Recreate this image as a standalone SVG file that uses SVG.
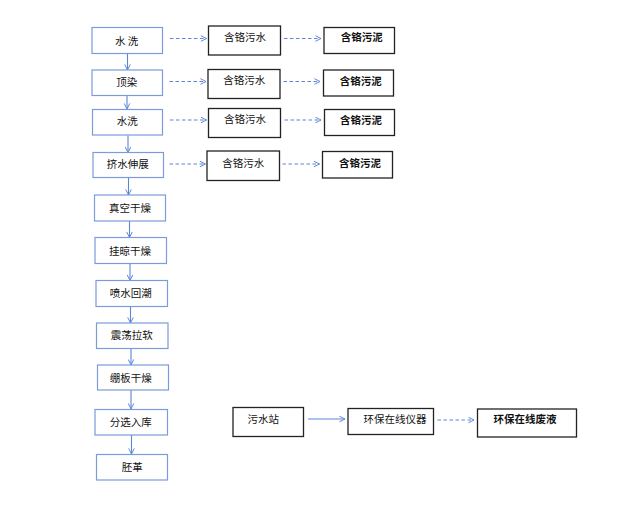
<svg xmlns="http://www.w3.org/2000/svg" width="618" height="529" viewBox="0 0 618 529">
<defs>
<style>
.bx{fill:#fff;stroke:#7B9BDB;stroke-width:1.2}
.kx{fill:#fff;stroke:#222;stroke-width:1.3}
text{font-family:"Noto Sans CJK SC","Liberation Sans",sans-serif;font-size:10.5px;fill:#111;text-anchor:middle}
.b{font-weight:bold}
.ar{stroke:#5B85D8;stroke-width:1.1;fill:none}
.da{stroke:#5B85D8;stroke-width:1.1;fill:none;stroke-dasharray:3.5 2.5}
</style>
<marker id="ah" viewBox="0 0 10 10" refX="9" refY="5" markerWidth="7" markerHeight="7" markerUnits="userSpaceOnUse" orient="auto">
<path d="M1,1 L9,5 L1,9" fill="none" stroke="#5B85D8" stroke-width="1.4"/>
</marker>
</defs>
<rect width="618" height="529" fill="#fff"/>
<g id="connectors">
<line class="ar" x1="127.5" y1="53.5" x2="127.5" y2="70" marker-end="url(#ah)"/>
<line class="ar" x1="127" y1="95.5" x2="127" y2="109" marker-end="url(#ah)"/>
<line class="ar" x1="128" y1="135.5" x2="128" y2="152.5" marker-end="url(#ah)"/>
<line class="ar" x1="128.5" y1="177.5" x2="128.5" y2="195" marker-end="url(#ah)"/>
<line class="ar" x1="129.5" y1="221" x2="129.5" y2="237.5" marker-end="url(#ah)"/>
<line class="ar" x1="130" y1="263.5" x2="130" y2="280.5" marker-end="url(#ah)"/>
<line class="ar" x1="130.5" y1="306.5" x2="130.5" y2="323" marker-end="url(#ah)"/>
<line class="ar" x1="131" y1="348.5" x2="131" y2="365" marker-end="url(#ah)"/>
<line class="ar" x1="131" y1="390" x2="131" y2="409" marker-end="url(#ah)"/>
<line class="ar" x1="131.5" y1="435" x2="131.5" y2="454" marker-end="url(#ah)"/>
<line class="da" x1="170" y1="38.5" x2="206.5" y2="38.5" marker-end="url(#ah)"/>
<line class="da" x1="284" y1="38.5" x2="321" y2="38.5" marker-end="url(#ah)"/>
<line class="da" x1="169.5" y1="81.5" x2="206" y2="81.5" marker-end="url(#ah)"/>
<line class="da" x1="283.5" y1="81.5" x2="320" y2="81.5" marker-end="url(#ah)"/>
<line class="da" x1="170" y1="120" x2="206.5" y2="120" marker-end="url(#ah)"/>
<line class="da" x1="284.5" y1="120" x2="321" y2="120" marker-end="url(#ah)"/>
<line class="da" x1="169.5" y1="164" x2="205.5" y2="164" marker-end="url(#ah)"/>
<line class="da" x1="282.5" y1="164" x2="319.5" y2="164" marker-end="url(#ah)"/>
<line class="ar" x1="308" y1="419" x2="345" y2="419" marker-end="url(#ah)"/>
<line class="da" x1="437.5" y1="420" x2="474" y2="420" marker-end="url(#ah)"/>
</g>
<g id="n1"><rect class="bx" x="92" y="27.5" width="70.5" height="26"/><text x="126.7" y="44.7">水 洗</text></g>
<g id="n2"><rect class="bx" x="92" y="70" width="70.5" height="25.5"/><text x="126.7" y="85.7">顶染</text></g>
<g id="n3"><rect class="bx" x="92.5" y="109.5" width="70" height="25.5"/><text x="127.3" y="124.7">水洗</text></g>
<g id="n4"><rect class="bx" x="93" y="152.5" width="70.5" height="25"/><text x="127.7" y="168">挤水伸展</text></g>
<g id="n5"><rect class="bx" x="94.5" y="195" width="71" height="26"/><text x="130" y="212.3">真空干燥</text></g>
<g id="n6"><rect class="bx" x="95" y="237.5" width="71.5" height="26"/><text x="130" y="255">挂晾干燥</text></g>
<g id="n7"><rect class="bx" x="96" y="280.5" width="71.5" height="26"/><text x="130.7" y="297.3">喷水回潮</text></g>
<g id="n8"><rect class="bx" x="96.5" y="323" width="71.5" height="25.5"/><text x="131.7" y="339">震荡拉软</text></g>
<g id="n9"><rect class="bx" x="97.5" y="365" width="71" height="25"/><text x="130.7" y="381.7">绷板干燥</text></g>
<g id="n10"><rect class="bx" x="95" y="409.5" width="72.5" height="25.5"/><text x="130.7" y="426.3">分选入库</text></g>
<g id="n11"><rect class="bx" x="96.5" y="454.5" width="71" height="25.5"/><text x="132.3" y="470.7">胚革</text></g>
<g id="w1"><rect class="kx" x="208.5" y="26" width="72" height="29"/><text x="245" y="40.7">含铬污水</text></g>
<g id="w2"><rect class="kx" x="208" y="69.5" width="72" height="29"/><text x="244.3" y="84">含铬污水</text></g>
<g id="w3"><rect class="kx" x="208.5" y="108.5" width="72" height="29"/><text x="245" y="123">含铬污水</text></g>
<g id="w4"><rect class="kx" x="207" y="151" width="72.5" height="29.5"/><text x="243.3" y="166.7">含铬污水</text></g>
<g id="s1"><rect class="kx" x="324" y="27.5" width="70.5" height="26"/><text class="b" x="361.7" y="41.3">含铬污泥</text></g>
<g id="s2"><rect class="kx" x="323.5" y="70" width="70" height="26"/><text class="b" x="360.7" y="85">含铬污泥</text></g>
<g id="s3"><rect class="kx" x="324.5" y="109.5" width="70" height="26"/><text class="b" x="361" y="124">含铬污泥</text></g>
<g id="s4"><rect class="kx" x="322.5" y="151.5" width="70" height="26.5"/><text class="b" x="360" y="167.3">含铬污泥</text></g>
<g id="p1"><rect class="kx" x="233" y="407.5" width="70.5" height="29"/><text x="263.3" y="423">污水站</text></g>
<g id="p2"><rect class="kx" x="348" y="408.5" width="85.5" height="26"/><text x="395" y="423">环保在线仪器</text></g>
<g id="p3"><rect class="kx" x="477.5" y="409" width="99" height="28"/><text class="b" x="525" y="423">环保在线废液</text></g>
</svg>
